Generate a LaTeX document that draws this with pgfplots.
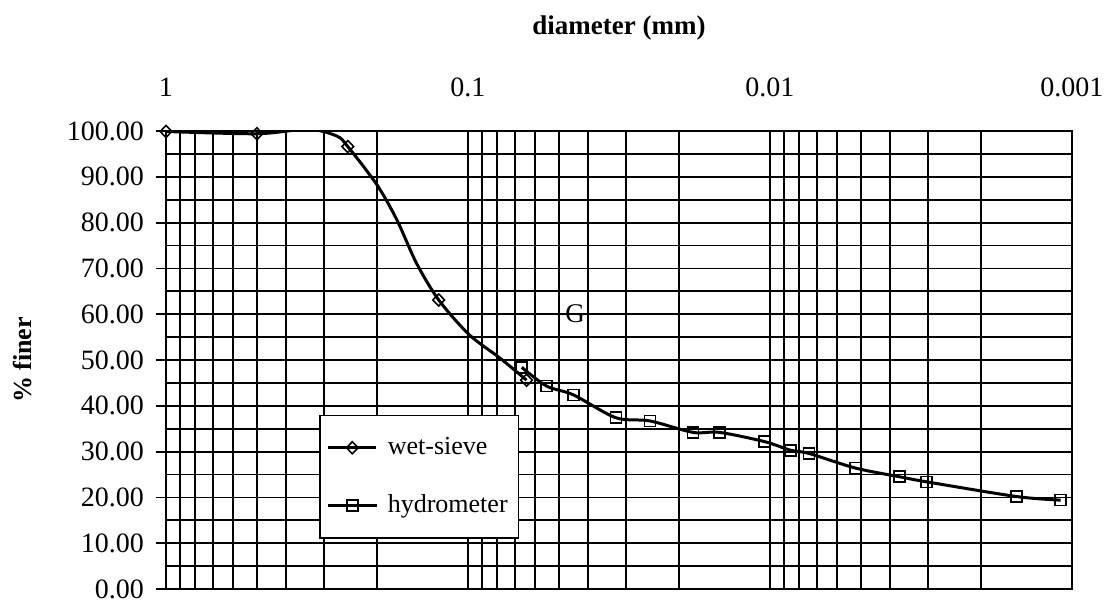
\documentclass[border=0pt]{standalone}
\usepackage{pgfplots}
\pgfplotsset{compat=1.18}
\usepackage{fontspec}
\setmainfont{Liberation Serif}

\begin{document}
\begin{tikzpicture}
\useasboundingbox (-83pt,-8.5pt) rectangle (471.5pt,294.5pt);
\begin{axis}[
  at={(0,0)}, anchor=south west,
  scale only axis, width=453pt, height=229pt,
  xmode=log, x dir=reverse,
  xmin=0.001, xmax=1, ymin=0, ymax=100,
  xtick={1,0.1,0.01,0.001},
  xticklabels={1,0.1,0.01,0.001},
  minor xtick={0.002,0.003,0.004,0.005,0.006,0.007,0.008,0.009,
               0.02,0.03,0.04,0.05,0.06,0.07,0.08,0.09,
               0.2,0.3,0.4,0.5,0.6,0.7,0.8,0.9},
  xticklabel pos=upper,
  x tick style={draw=none},
  ytick={0,10,...,100},
  minor ytick={5,15,...,95},
  ytick pos=left,
  tick align=outside,
  major tick length=5pt, minor tick length=0pt,
  y tick style={black, line width=0.9pt},
  xmajorgrids, xminorgrids, ymajorgrids, yminorgrids,
  major grid style={black, line width=0.9pt},
  minor grid style={black, line width=0.9pt},
  axis line style={black, line width=0.9pt},
  tick label style={font=\fontsize{14}{16}\selectfont},
  /pgf/number format/assume math mode=true,
  yticklabel style={xshift=-2.5pt, /pgf/number format/.cd, fixed, fixed zerofill, precision=2},
  xticklabel style={yshift=8.7pt},
  title={\textbf{diameter (mm)}},
  title style={at={(axis description cs:0.5,1)}, anchor=center, yshift=45.5pt,
               font=\fontsize{13.5}{15}\selectfont},
  ylabel={\textbf{\% finer}},
  every axis y label/.style={at={(axis description cs:-0.158,0.5)}, rotate=90,
               anchor=center, font=\fontsize{13}{15}\selectfont},
  legend style={at={(axis description cs:0.169,0.38)}, anchor=north west,
               draw=black, line width=0.7pt, fill=white,
               font=\fontsize{13}{15}\selectfont,
               inner xsep=3.5pt, inner ysep=9pt, row sep=14.5pt, column sep=3pt,
               nodes={inner sep=2pt}},
  legend cell align=left,
]

% wet-sieve curve, traced through the sieve results
\addplot[black, line width=1.5pt, smooth, forget plot]
  coordinates {
  (1,99.9) (0.5,99.4) (0.338,100.4) (0.272,98.9) (0.25,96.6)
  (0.2,88.2) (0.172,80.6) (0.148,71.1) (0.125,63.1)
  (0.099,55.5) (0.0783,50.4) (0.064,45.6)
  };
% wet-sieve results
\addplot[black, line width=1.5pt, only marks, mark=diamond, mark size=3pt,
  mark options={line width=0.8pt, fill=white, solid, xscale=1.3},
  legend image code/.code={\draw[sharp plot, mark repeat=2, mark phase=2] plot coordinates {(0pt,0pt) (12pt,0pt) (24pt,0pt)};}]
  coordinates {
  (1,99.9) (0.5,99.4) (0.25,96.6) (0.125,63.1) (0.064,45.6)
  };
\addlegendentry{wet-sieve}

% hydrometer readings
\addplot[black, line width=1.5pt, smooth, mark=square, mark size=2.75pt,
  mark options={line width=0.8pt, solid},
  legend image code/.code={\draw[mark repeat=2, mark phase=2] plot coordinates {(0pt,0pt) (12pt,0pt) (24pt,0pt)};}]
  coordinates {
  (0.0664,48.4) (0.0549,44.3) (0.0448,42.4) (0.0324,37.4) (0.0250,36.7)
  (0.0180,34.2) (0.0147,34.2) (0.01045,32.2) (0.00855,30.3) (0.00743,29.6)
  (0.00521,26.4) (0.00372,24.5) (0.00303,23.4) (0.00153,20.2) (0.00109,19.4)
  };
\addlegendentry{hydrometer}

\node[font=\fontsize{13.5}{15}\selectfont] at (axis cs:0.0442,60.2) {G};
\end{axis}
\end{tikzpicture}
\end{document}
